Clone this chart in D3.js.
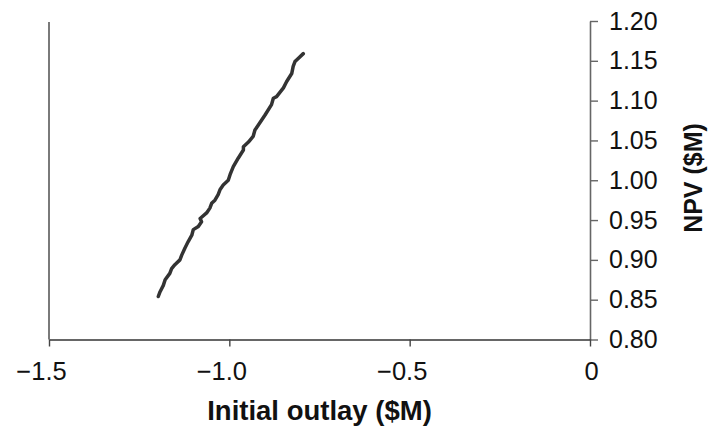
<!DOCTYPE html>
<meta charset="utf-8">
<style>
  body { margin: 0; background: #fff; }
  text { font-family: "Liberation Sans", Arial, sans-serif; fill: #111; }
  .title { font-weight: bold; }
</style>
<body>
<div id="chart"></div>
<script src="https://cdn.jsdelivr.net/npm/d3@7"></script>
<script>

// NPV against initial outlay, both in $M
const outlay = [-1.197, -1.192, -1.183, -1.178, -1.165, -1.160, -1.151, -1.137, -1.132, -1.123,
                -1.114, -1.104, -1.100, -1.086, -1.077, -1.081, -1.063, -1.054, -1.049, -1.040,
                -1.031, -1.026, -1.017, -1.003, -0.998, -0.989, -0.975, -0.961, -0.961, -0.947,
                -0.934, -0.929, -0.920, -0.901, -0.883, -0.878, -0.869, -0.850, -0.841, -0.827,
                -0.823, -0.818, -0.809, -0.795];
const npv = [0.854, 0.860, 0.868, 0.875, 0.883, 0.889, 0.894, 0.900, 0.906, 0.915,
             0.923, 0.931, 0.938, 0.942, 0.948, 0.952, 0.959, 0.965, 0.971, 0.975,
             0.982, 0.988, 0.994, 1.000, 1.007, 1.017, 1.028, 1.038, 1.042, 1.048,
             1.055, 1.063, 1.069, 1.082, 1.095, 1.103, 1.105, 1.116, 1.124, 1.134,
             1.143, 1.149, 1.153, 1.159];

const xTicks = [-1.5, -1.0, -0.5, 0];
const xTickLabels = ["\u22121.5", "\u22121.0", "\u22120.5", "0"];
const yTicks = [0.80, 0.85, 0.90, 0.95, 1.00, 1.05, 1.10, 1.15, 1.20];

const width = 710, height = 426;
const margin = {top: 21, right: 120, bottom: 86.5, left: 49};

const svg = d3.select("#chart").append("svg")
    .attr("width", width)
    .attr("height", height);

const x = d3.scaleLinear()
    .domain([-1.5, 0])
    .range([margin.left, width - margin.right]);

const y = d3.scaleLinear()
    .domain([0.80, 1.20])
    .range([height - margin.bottom, margin.top]);

// left frame line
svg.append("line")
    .attr("x1", x(-1.5)).attr("x2", x(-1.5))
    .attr("y1", y(1.20) + 1).attr("y2", y(0.80))
    .attr("stroke", "#7a7a7a")
    .attr("stroke-width", 2);

// right axis
const yAxis = svg.append("g")
    .attr("transform", `translate(${x(0)},0)`)
    .call(d3.axisRight(y)
        .tickValues(yTicks)
        .tickFormat(d3.format(".2f"))
        .tickSize(8)
        .tickSizeOuter(0)
        .tickPadding(11));
yAxis.select(".domain").attr("stroke", "#666").attr("stroke-width", 1.6);
yAxis.selectAll(".tick line").attr("stroke", "#666").attr("stroke-width", 1.4);
yAxis.selectAll(".tick text")
    .attr("font-size", 25)
    .attr("font-family", "Liberation Sans, Arial, sans-serif")
    .attr("fill", "#111");

// bottom axis
const xAxis = svg.append("g")
    .attr("transform", `translate(0,${y(0.80)})`)
    .call(d3.axisBottom(x)
        .tickValues(xTicks)
        .tickFormat((d, i) => xTickLabels[i])
        .tickSize(7)
        .tickSizeOuter(0)
        .tickPadding(15));
xAxis.select(".domain").attr("stroke", "#333").attr("stroke-width", 1.6);
xAxis.selectAll(".tick line").attr("stroke", "#444").attr("stroke-width", 1.4);
xAxis.selectAll(".tick text")
    .attr("font-size", 25.5)
    .attr("font-family", "Liberation Sans, Arial, sans-serif")
    .attr("fill", "#111")
    .attr("dx", d => d < 0 ? -8 : 1);

// the NPV curve
const line = d3.line()
    .x((d, i) => x(outlay[i]))
    .y(d => y(d));

svg.append("path")
    .datum(npv)
    .attr("d", line)
    .attr("fill", "none")
    .attr("stroke", "#333")
    .attr("stroke-width", 3.5)
    .attr("stroke-linejoin", "round")
    .attr("stroke-linecap", "round");

// axis titles
svg.append("text")
    .attr("class", "title")
    .attr("x", (x(-1.5) + x(0)) / 2)
    .attr("y", 420)
    .attr("text-anchor", "middle")
    .attr("font-size", 27.5)
    .text("Initial outlay ($M)");

svg.append("text")
    .attr("class", "title")
    .attr("transform", `translate(701.5,178) rotate(-90)`)
    .attr("text-anchor", "middle")
    .attr("font-size", 25)
    .text("NPV ($M)");

</script>
</body>
</html>
